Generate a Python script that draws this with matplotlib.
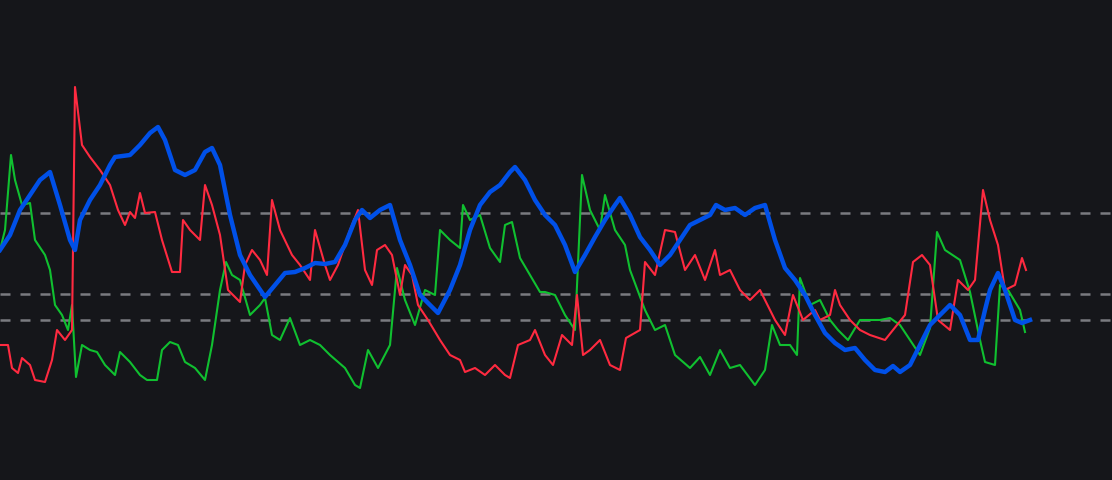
import matplotlib
matplotlib.use("Agg")
import matplotlib.pyplot as plt

# values are oscillator readings on a 0-480 scale, t is the bar position
blue_t = [0, 10, 20, 30, 40, 50, 60, 70, 75, 80, 90, 100, 110, 115, 130, 140, 150, 158, 165, 175, 185, 195, 205, 212,
          220, 230, 240, 250, 265, 275, 285, 295, 305, 315, 325, 335, 345, 355, 362, 370, 380, 390, 400, 410, 420, 430,
          438, 450, 460, 470, 480, 490, 500, 510, 515, 525, 535, 545, 555, 565, 575, 585, 595, 605, 615, 620, 630, 640,
          650, 660, 670, 680, 690, 700, 710, 716, 725, 735, 745, 755, 765, 775, 785, 795, 805, 815, 825, 835, 845, 855,
          865, 875, 885, 893, 900, 910, 920, 930, 940, 950, 960, 970, 978, 985, 990, 998, 1005, 1015, 1022, 1030]
blue_y = [250, 235, 210, 195, 180, 172, 205, 240, 250, 220, 200, 185, 165, 157, 155, 145, 133, 127, 140, 170, 175, 170,
          152, 148, 165, 215, 255, 275, 297, 285, 273, 272, 268, 263, 264, 262, 245, 220, 210, 218, 210, 205, 240, 265,
          295, 305, 313, 290, 265, 230, 205, 192, 185, 172, 167, 180, 200, 215, 225, 245, 272, 255, 237, 220, 205, 198,
          215, 237, 250, 265, 255, 240, 225, 220, 215, 205, 210, 208, 215, 208, 205, 240, 268, 280, 295, 315, 333, 343,
          350, 348, 360, 370, 372, 366, 372, 365, 345, 325, 315, 305, 315, 340, 340, 310, 290, 273, 290, 320, 323, 320]

green_t = [0, 5, 11, 15, 22, 30, 35, 45, 50, 55, 62, 68, 72, 76, 82, 90, 97, 105, 115, 120, 130, 140, 147, 157, 162,
           170, 178, 185, 195, 205, 212, 220, 226, 232, 240, 250, 260, 265, 272, 280, 290, 300, 310, 320, 330, 345, 355,
           360, 368, 378, 390, 397, 405, 415, 425, 435, 440, 450, 460, 463, 470, 480, 490, 500, 505, 512, 520, 530, 540,
           545, 555, 565, 575, 582, 590, 600, 605, 615, 625, 630, 645, 655, 665, 675, 690, 700, 710, 720, 730, 740, 755,
           765, 772, 780, 790, 797, 800, 810, 820, 830, 838, 848, 860, 880, 890, 900, 910, 920, 930, 937, 945, 960, 970,
           980, 985, 995, 1000, 1008, 1020, 1025]
green_y = [250, 230, 155, 180, 205, 203, 240, 255, 270, 305, 315, 330, 305, 377, 345, 350, 352, 365, 375, 352, 362, 375,
           380, 380, 350, 342, 345, 362, 368, 380, 345, 290, 262, 275, 280, 315, 305, 298, 335, 340, 318, 345, 340, 345,
           355, 368, 385, 388, 350, 368, 345, 268, 300, 325, 290, 295, 230, 240, 248, 205, 220, 215, 248, 262, 225, 222,
           258, 275, 292, 292, 295, 315, 330, 175, 210, 230, 195, 230, 245, 270, 310, 330, 325, 355, 368, 357, 375, 350,
           368, 365, 385, 370, 325, 345, 345, 355, 278, 305, 300, 320, 330, 340, 320, 320, 318, 325, 340, 355, 328, 232,
           250, 260, 292, 340, 362, 365, 285, 290, 310, 332]

red_t = [0, 8, 12, 18, 22, 30, 35, 45, 52, 57, 65, 72, 75, 82, 90, 100, 110, 118, 125, 130, 135, 140, 145, 155, 162,
         172, 180, 183, 190, 200, 205, 212, 220, 228, 240, 245, 252, 260, 267, 272, 280, 292, 300, 310, 315, 325, 330,
         338, 350, 358, 365, 372, 377, 385, 392, 400, 405, 412, 418, 428, 440, 450, 460, 465, 475, 485, 495, 505, 510,
         518, 530, 535, 545, 553, 562, 572, 577, 583, 590, 600, 610, 620, 626, 640, 645, 655, 665, 675, 685, 695, 705,
         715, 720, 730, 740, 750, 760, 770, 775, 785, 793, 803, 815, 820, 830, 835, 840, 850, 860, 870, 885, 893, 905,
         913, 922, 930, 938, 950, 958, 968, 975, 983, 990, 998, 1005, 1015, 1022, 1026]
red_y = [345, 345, 368, 373, 358, 365, 380, 382, 360, 330, 340, 330, 87, 145, 157, 170, 185, 210, 225, 212, 218, 193,
         213, 212, 240, 272, 272, 220, 230, 240, 185, 205, 235, 290, 302, 265, 250, 260, 275, 200, 230, 255, 265, 280,
         230, 265, 280, 265, 230, 210, 270, 285, 250, 245, 255, 295, 265, 275, 305, 320, 340, 355, 360, 372, 368, 375,
         365, 375, 378, 345, 340, 330, 355, 365, 335, 345, 295, 355, 350, 340, 365, 370, 338, 330, 262, 275, 230, 232,
         270, 255, 280, 250, 275, 270, 290, 300, 290, 310, 320, 335, 295, 320, 310, 320, 315, 290, 305, 320, 330, 335,
         340, 330, 315, 262, 255, 265, 320, 330, 280, 290, 280, 190, 220, 245, 290, 285, 258, 270]

levels = [213, 294, 320]

BG = "#15161a"

fig = plt.figure(figsize=(11.12, 4.8), dpi=100, facecolor=BG)
ax = fig.add_axes([0, 0, 1, 1])
ax.set_facecolor(BG)

for lvl in levels:
    ax.axhline(480 - lvl, color="#7a7b80", linestyle=(0, (4, 4)), linewidth=1.8)

ax.plot(green_t, [480 - v for v in green_y], color="#10c030", linewidth=1.5)
ax.plot(red_t, [480 - v for v in red_y], color="#ff2a40", linewidth=1.5)
ax.plot(blue_t, [480 - v for v in blue_y], color="#0050e8", linewidth=3.2)

ax.set_xlim(0, 1112)
ax.set_ylim(0, 480)
ax.axis("off")

fig.savefig("out.png", dpi=100, facecolor=BG)
